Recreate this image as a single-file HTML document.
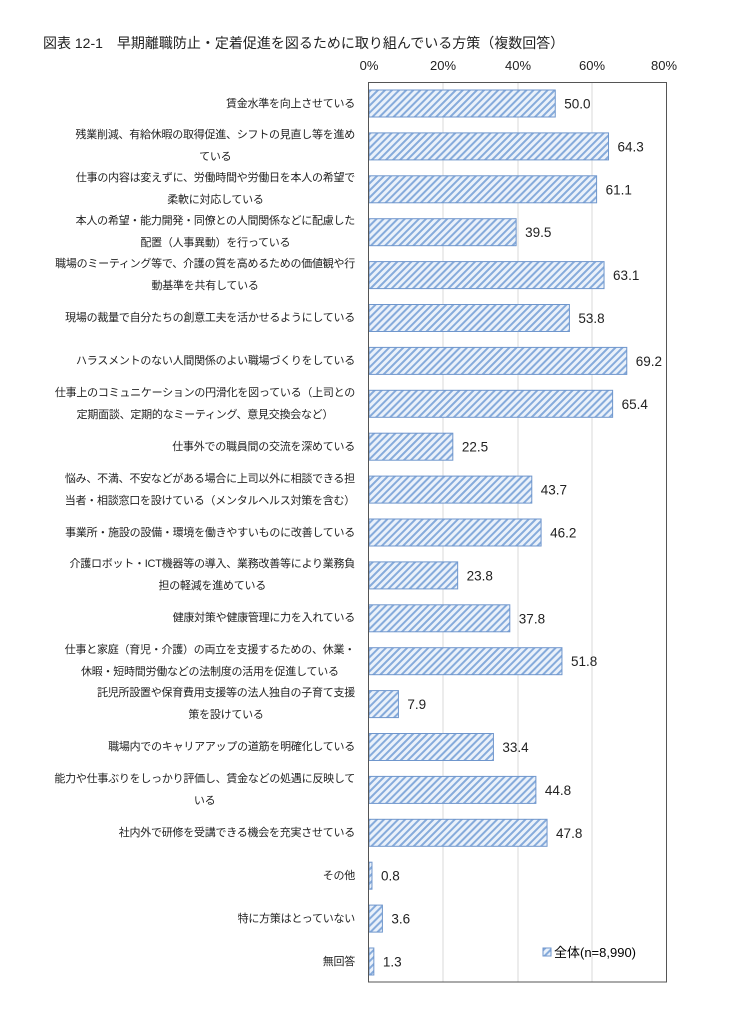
<!DOCTYPE html>
<html><head><meta charset="utf-8"><style>
body{margin:0;background:#fff;width:732px;height:1024px;position:relative;font-family:"Liberation Sans","Noto Sans CJK JP",sans-serif;color:#222;overflow:hidden}
.t{position:absolute;left:43px;top:33px;font-size:14px;white-space:nowrap}
.l{position:absolute;right:377px;text-align:center;font-size:11px;letter-spacing:-0.25px;line-height:22px;white-space:nowrap;transform:translateY(-50%)}
svg{position:absolute;left:0;top:0}
</style></head><body>
<div class="t">図表 12-1　早期離職防止・定着促進を図るために取り組んでいる方策（複数回答）</div>
<svg width="732" height="1024" font-family="Liberation Sans, Noto Sans CJK JP, sans-serif">
<defs><pattern id="h" width="5" height="5" patternUnits="userSpaceOnUse" patternTransform="rotate(45)">
<rect width="5" height="5" fill="#eaf1fa"/><rect width="2" height="5" fill="#86abdb"/></pattern></defs>
<g stroke="#d9d9d9" stroke-width="1">
<line x1="443" y1="82" x2="443" y2="982"/><line x1="518" y1="82" x2="518" y2="982"/><line x1="592" y1="82" x2="592" y2="982"/></g>
<g font-size="13" text-anchor="middle" fill="#222">
<text x="369" y="70">0%</text><text x="443" y="70">20%</text><text x="518" y="70">40%</text><text x="592" y="70">60%</text><text x="664" y="70">80%</text></g>
<g id="bars"></g>
<rect x="368.5" y="82.5" width="298" height="899.5" fill="none" stroke="#555" stroke-width="1"/>
<rect x="543" y="948" width="8" height="8" fill="url(#h)" stroke="#6f96cc"/>
<text x="554" y="957" font-size="13">全体(n=8,990)</text>
</svg>
<div id="labels"></div>
<script>
var d=[["賃金水準を向上させている",50.0],["残業削減、有給休暇の取得促進、シフトの見直し等を進め<br>ている",64.3],["仕事の内容は変えずに、労働時間や労働日を本人の希望で<br>柔軟に対応している",61.1],["本人の希望・能力開発・同僚との人間関係などに配慮した<br>配置（人事異動）を行っている",39.5],["職場のミーティング等で、介護の質を高めるための価値観や行<br>動基準を共有している",63.1],["現場の裁量で自分たちの創意工夫を活かせるようにしている",53.8],["ハラスメントのない人間関係のよい職場づくりをしている",69.2],["仕事上のコミュニケーションの円滑化を図っている（上司との<br>定期面談、定期的なミーティング、意見交換会など）",65.4],["仕事外での職員間の交流を深めている",22.5],["悩み、不満、不安などがある場合に上司以外に相談できる担<br>当者・相談窓口を設けている（メンタルヘルス対策を含む）",43.7],["事業所・施設の設備・環境を働きやすいものに改善している",46.2],["介護ロボット・ICT機器等の導入、業務改善等により業務負<br>担の軽減を進めている",23.8],["健康対策や健康管理に力を入れている",37.8],["仕事と家庭（育児・介護）の両立を支援するための、休業・<br>休暇・短時間労働などの法制度の活用を促進している",51.8],["託児所設置や保育費用支援等の法人独自の子育て支援<br>策を設けている",7.9],["職場内でのキャリアアップの道筋を明確化している",33.4],["能力や仕事ぶりをしっかり評価し、賃金などの処遇に反映して<br>いる",44.8],["社内外で研修を受講できる機会を充実させている",47.8],["その他",0.8],["特に方策はとっていない",3.6],["無回答",1.3]];
var s="",L="";
d.forEach(function(r,i){var c=103.5+i*42.9,w=r[1]*3.725;
s+='<rect x="369" y="'+(c-13.5)+'" width="'+w+'" height="27" fill="url(#h)" stroke="#6f96cc" stroke-width="1"/>';
s+='<text x="'+(369+w+9)+'" y="'+(c+5)+'" font-size="13.5" fill="#222">'+r[1].toFixed(1)+'</text>';
L+='<div class="l" style="top:'+c+'px">'+r[0]+'</div>';});
document.getElementById("bars").innerHTML=s;document.getElementById("labels").innerHTML=L;
</script>
</body></html>
